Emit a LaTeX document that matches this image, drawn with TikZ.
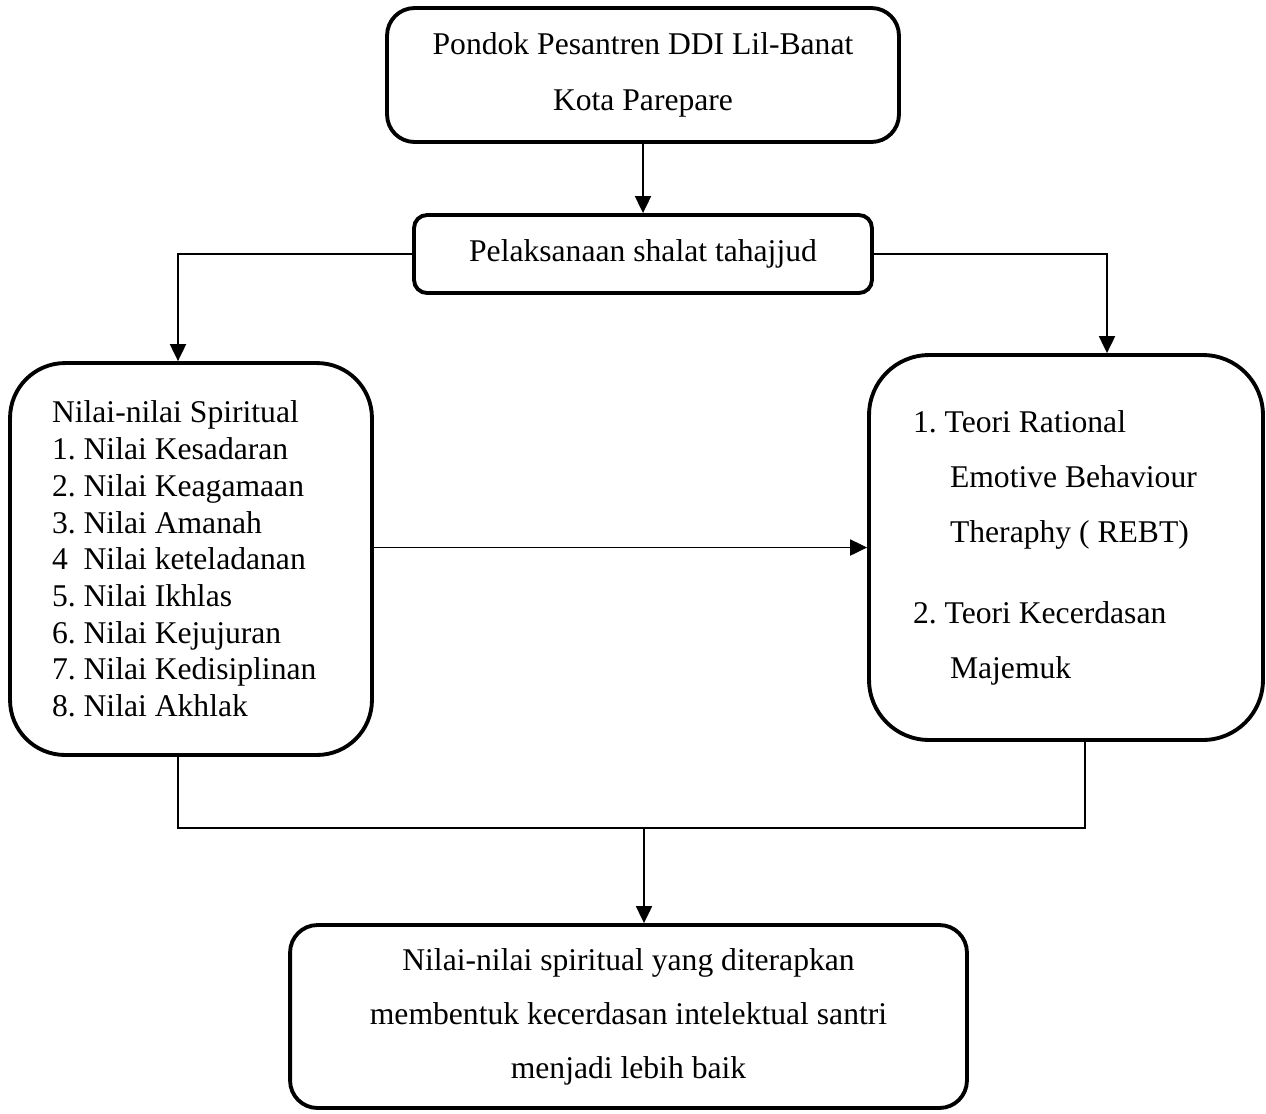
\documentclass[tikz,border=0pt]{standalone}
\usepackage{fontspec}
\setmainfont{Liberation Serif}
\usetikzlibrary{arrows.meta,positioning,calc}
\frenchspacing

\begin{document}
\begin{tikzpicture}[
    % GLOBAL CFG
    x=0.02cm, y=-0.02cm,
    >={Triangle[length=0.34cm,width=0.32cm]},
    % Styles
    box/.style={% For all the boxes
        rectangle,
        draw,
        line width=2.2pt,
        inner sep=0pt,
        },
    wide/.style={% Text with 1.5 spacing
        font=\fontsize{18}{32}\selectfont,
        align=center,
        },
    list/.style={% Single spaced lists
        font=\fontsize{18}{20.9}\selectfont,
        align=flush left,
        },
    conn/.style={% Connectors
        line width=1.1pt,
        },
    ]

    \useasboundingbox (0,0) rectangle (1266,1113);

    % Draw the boxes
    \node [box, wide, rounded corners=0.55cm, minimum width=10.24cm, minimum height=2.68cm]
        (pondok) at (643,75) {Pondok Pesantren DDI Lil-Banat\\Kota Parepare};
    \node [box, wide, rounded corners=0.26cm, minimum width=9.16cm, minimum height=1.56cm]
        (shalat) at (643,254) {Pelaksanaan shalat tahajjud};
    \node [box, list, rounded corners=1.1cm, minimum width=7.24cm, minimum height=7.84cm, text width=5.56cm]
        (nilai) at (191,559) {Nilai-nilai Spiritual\\
        1. Nilai Kesadaran\\
        2. Nilai Keagamaan\\
        3. Nilai Amanah\\
        4\ \ Nilai keteladanan\\
        5. Nilai Ikhlas\\
        6. Nilai Kejujuran\\
        7. Nilai Kedisiplinan\\
        8. Nilai Akhlak};
    \node [box, list, font=\fontsize{18}{31.3}\selectfont, rounded corners=1.2cm, minimum width=7.88cm, minimum height=7.7cm, text width=6.12cm]
        (teori) at (1066,547.5) {1. Teori Rational\\
        \hspace*{0.74cm}Emotive Behaviour\\
        \hspace*{0.74cm}Theraphy ( REBT)\\[14.8pt]
        2. Teori Kecerdasan\\
        \hspace*{0.74cm}Majemuk};
    \node [box, wide, font=\fontsize{18}{30.7}\selectfont, rounded corners=0.55cm, minimum width=13.54cm, minimum height=3.66cm]
        (hasil) at (628.5,1016.5) {Nilai-nilai spiritual yang diterapkan\\
        membentuk kecerdasan intelektual santri\\
        menjadi lebih baik};

    % Connect all
    \draw [->, conn] (pondok) -- (shalat);
    \draw [->, conn] (shalat.west) -| ([xshift=-0.26cm]nilai.north);
    \draw [->, conn] (shalat.east) -| ([xshift=0.82cm]teori.north);
    \draw [->, conn] (nilai.east |- teori.west) -- (teori.west);

    % Join both boxes below
    \coordinate (join) at (644,828);
    \draw [conn] ([xshift=-0.26cm]nilai.south) |- (join) -| ([xshift=0.38cm]teori.south);
    \draw [->, conn] (join) -- (join |- hasil.north);

\end{tikzpicture}
\end{document}
